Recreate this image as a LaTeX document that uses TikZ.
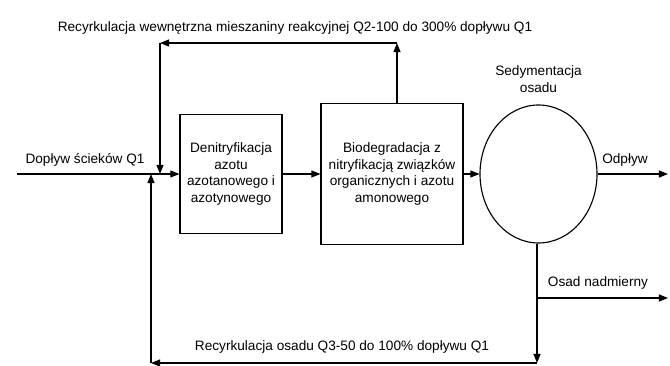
\documentclass[tikz,border=0pt]{standalone}
\usepackage{fontspec}
\setmainfont{Liberation Sans}
\usepackage{tikz}
\usetikzlibrary{arrows,arrows.meta,shapes,positioning}

\begin{document}
\begin{tikzpicture}[->,>={Triangle[length=6.5pt,width=5pt]},auto,node distance=4cm,
                    thick,font=\fontsize{9.7}{12}\selectfont]
  \tikzstyle{every node}=[align=center]
  \tikzstyle{proc}=[draw,rectangle,inner sep=0pt]
  \useasboundingbox (0,0) rectangle (16.75,-9.125);

  \node[proc, minimum width=2.55cm, minimum height=2.975cm] (D) at (5.775,-4.35) {Denitryfikacja\\azotu\\azotanowego i\\azotynowego};
  \node[proc, minimum width=3.55cm, minimum height=3.525cm] (B) at (9.8,-4.35) {Biodegradacja z\\nitryfikacją związków\\organicznych i azotu\\amonowego};
  \node[draw, ellipse, minimum width=2.925cm, minimum height=3.45cm, inner sep=0pt] (S) at (13.4625,-4.35) {};

  \coordinate (in) at (0.425,-4.35);
  \coordinate (j1) at (4.0,-4.35);
  \coordinate (j2) at (3.775,-4.35);
  \coordinate (tl) at (4.0,-1.075);
  \coordinate (tr) at (9.925,-1.075);
  \coordinate (out) at (16.7,-4.35);
  \coordinate (s1) at (13.425,-7.45);
  \coordinate (s2) at (13.425,-9.075);
  \coordinate (ex) at (16.7,-7.45);
  \coordinate (bl) at (3.775,-9.075);

  \path (in) edge (D)
        (D) edge (B)
        (B) edge (S)
        (S) edge (out);
  % internal recirculation
  \draw (B.north -| tr) -- (tr);
  \draw (tr) -- (tl);
  \draw (tl) -- (j1);
  % sludge
  \draw (S.south -| s2) -- (s2);
  \draw (s1) -- (ex);
  \draw (s2) -- (bl);
  \draw (bl) -- (j2);

  \node (t1) at (7.375,-0.7) {Recyrkulacja wewnętrzna mieszaniny reakcyjnej Q2-100 do 300\% dopływu Q1};
  \node (t2) at (2.125,-4.0) {Dopływ ścieków Q1};
  \node (t3) [above of=S, node distance=2.375cm] {Sedymentacja\\osadu};
  \node (t4) at (15.625,-4.0) {Odpływ};
  \node (t5) at (14.95,-7.075) {Osad nadmierny};
  \node (t6) at (8.55,-8.675) {Recyrkulacja osadu Q3-50 do 100\% dopływu Q1};
\end{tikzpicture}
\end{document}
